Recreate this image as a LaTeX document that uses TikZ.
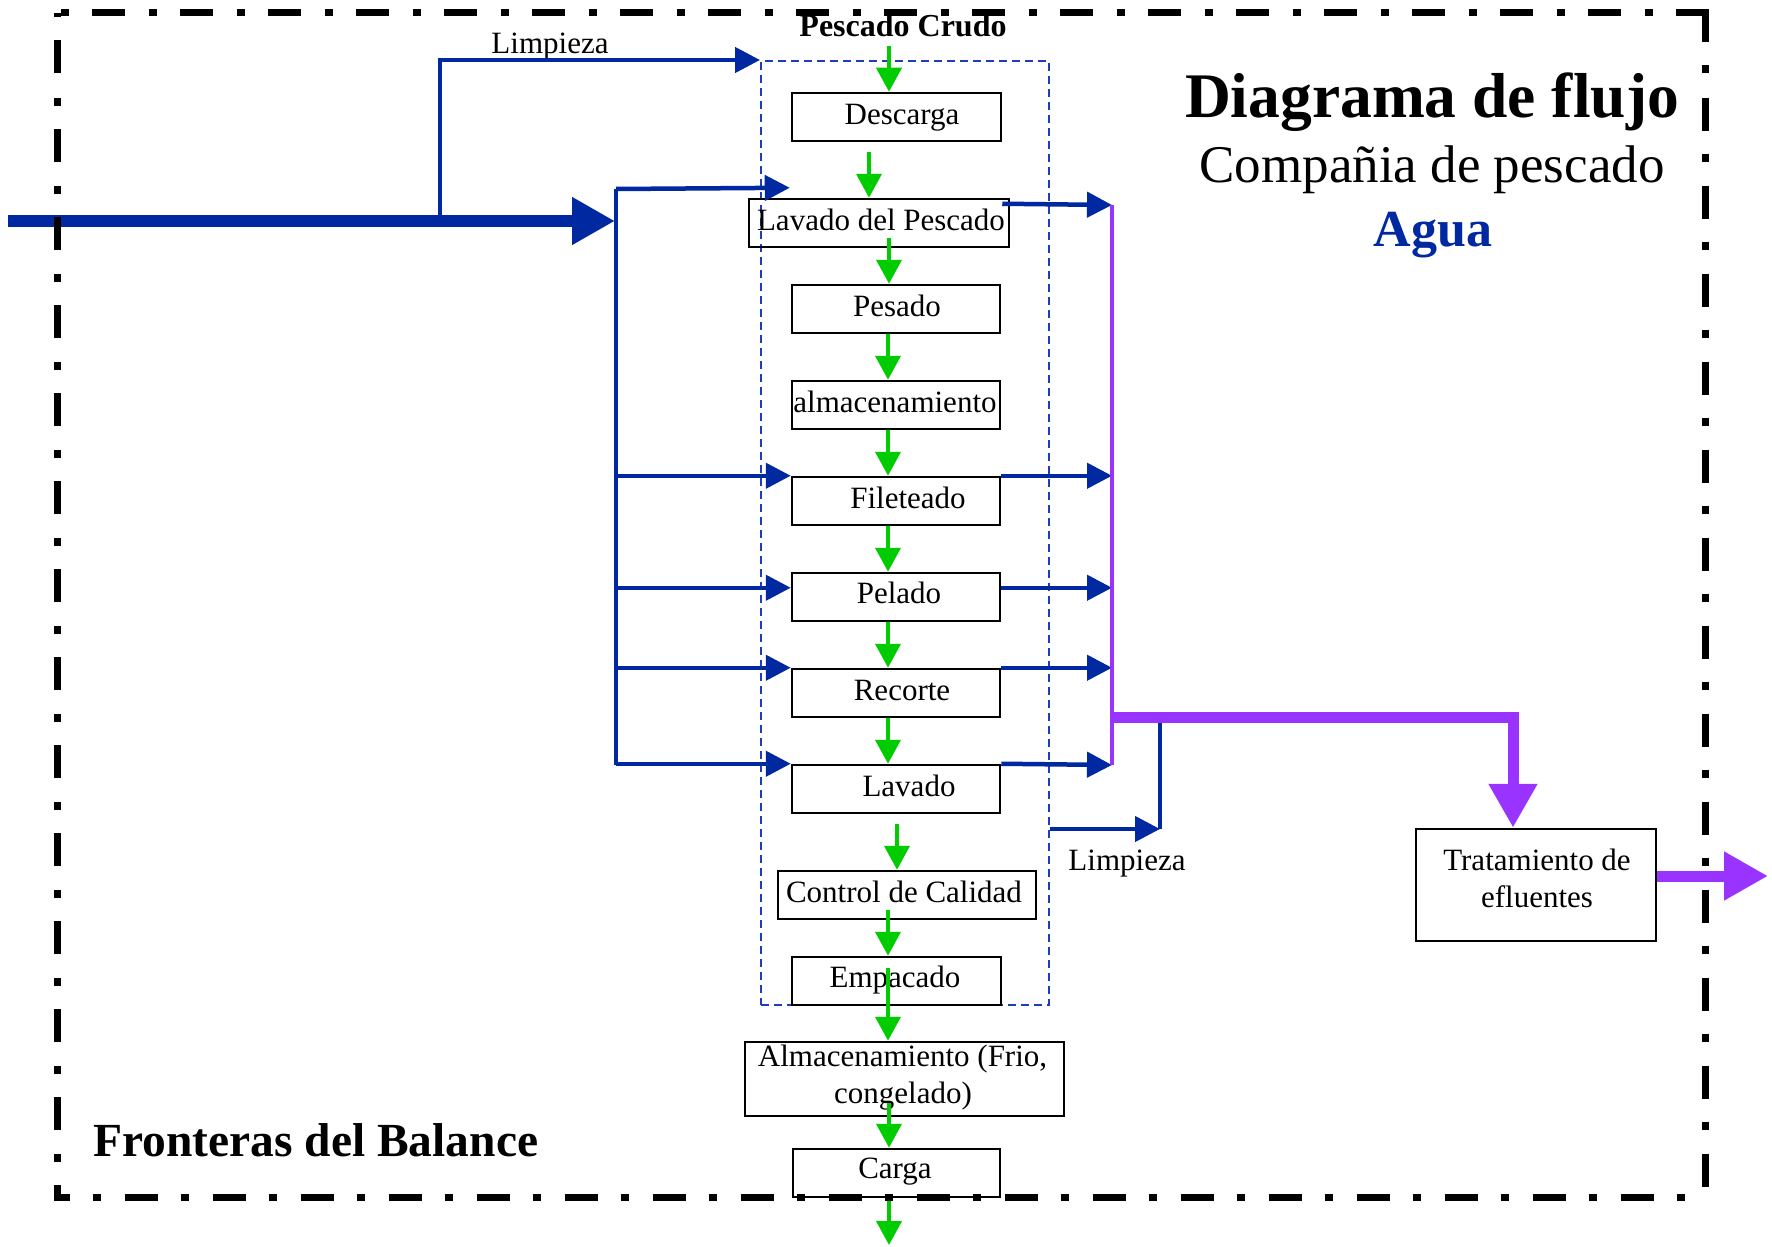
\documentclass[tikz,border=0pt]{standalone}
\usepackage{fontspec}
\setmainfont{Liberation Serif}
\usetikzlibrary{arrows.meta,calc}
\definecolor{cblue}{RGB}{0,40,160}
\definecolor{cdash}{RGB}{30,60,190}
\definecolor{cgreen}{RGB}{0,204,0}
\definecolor{cpurp}{RGB}{153,51,255}
\begin{document}
\begin{tikzpicture}[x=1pt,y=-1pt,
  box/.style={draw, line width=2.5pt, inner sep=0pt, minimum height=48pt},
  txt/.style={inner sep=0pt, anchor=base, font=\fontsize{31}{37}\selectfont},
  bline/.style={draw=cblue, line width=4.5pt},
  barrow/.style={draw=cblue, line width=4.5pt, line join=miter, -{Triangle[length=25pt,width=25pt]}},
  bthick/.style={draw=cblue, line width=12pt, -{Triangle[length=43pt,width=45pt]}},
  garrow/.style={draw=cgreen, line width=4pt, -{Triangle[length=24pt,width=25pt]}},
  pline/.style={draw=cpurp, line width=4pt},
  pthick/.style={draw=cpurp, line width=11pt, line join=miter, -{Triangle[length=44pt,width=46pt]}},
  border/.style={draw=black, line width=7pt, dash pattern=on 33pt off 23pt on 8pt off 24pt}
]
\useasboundingbox (0,0) rectangle (1772,1247);

% dashed process zone
\node[draw=cdash, line width=2pt, dash pattern=on 8pt off 5pt, inner sep=0pt,
      minimum width=288pt, minimum height=944pt] (zone) at (905,533) {};

% boxes
\node[box, minimum width=209pt] (desc) at (896.5,117) {};
\node[box, minimum width=260pt] (lavp) at (879,223) {};
\node[box, minimum width=208pt] (pes) at (896,309) {};
\node[box, minimum width=208pt] (alm) at (896,405) {};
\node[box, minimum width=208pt] (fil) at (896,501) {};
\node[box, minimum width=208pt] (pel) at (896,597) {};
\node[box, minimum width=208pt] (rec) at (896,693) {};
\node[box, minimum width=208pt] (lav) at (896,789) {};
\node[box, minimum width=258pt] (ctrl) at (907,895) {};
\node[box, minimum width=209pt] (emp) at (896.5,981) {};
\node[box, minimum width=319pt, minimum height=74pt] (almf) at (904.5,1079) {};
\node[box, minimum width=207pt] (carga) at (896.5,1173) {};
\node[box, minimum width=240pt, minimum height=112pt] (trat) at (1536,885) {};

% box texts
\node[txt] (tdesc) at (902,124) {Descarga};
\node[txt] (tlavp) at (881,230) {Lavado del Pescado};
\node[txt] (tpes) at (897,316) {Pesado};
\node[txt] (talm) at (895,412) {almacenamiento};
\node[txt] (tfil) at (908,508) {Fileteado};
\node[txt] (tpel) at (899,603) {Pelado};
\node[txt] (trec) at (902,700) {Recorte};
\node[txt] (tlav) at (909,796) {Lavado};
\node[txt] (tctrl) at (904,902) {Control de Calidad};
\node[txt] (temp) at (895,987) {Empacado};
\node[txt] (talma) at (902.5,1066) {Almacenamiento (Frio,};
\node[txt] (talmb) at (903,1103) {congelado)};
\node[txt] (tcarga) at (895,1178) {Carga};
\node[txt] (ttrata) at (1537,870) {Tratamiento de};
\node[txt] (ttratb) at (1537,907) {efluentes};

% other texts
\node[txt, font=\fontsize{32}{37}\selectfont\bfseries] (tpc) at (903,37) {Pescado Crudo};
\node[txt] (tlim1) at (550,53) {Limpieza};
\node[txt] (tlim2) at (1127,870) {Limpieza};
\node[txt, font=\fontsize{63.5}{70}\selectfont\bfseries] (title) at (1432,117) {Diagrama de flujo};
\node[txt, font=\fontsize{53}{60}\selectfont] (sub) at (1432,182) {Compañia de pescado};
\node[txt, font=\fontsize{52}{60}\selectfont\bfseries, text=cblue] (agua) at (1433,246) {Agua};
\node[txt, anchor=base west, font=\fontsize{47.5}{52}\selectfont\bfseries] (front) at (93,1156) {Fronteras del Balance};

% coordinates
\coordinate (in) at (8,221);
\coordinate (hub) at (615,221);
\coordinate (lbr) at (440,221);
\coordinate (bus) at (616,189);
\coordinate (busend) at (616,765);
\coordinate (col) at (1112,205);
\coordinate (colb) at (1112,765);
\coordinate (pj) at (1112,717);
\coordinate (lb1) at (1160,829);
\coordinate (lb2) at (1160,717);
\coordinate (out) at (889,1245);
\coordinate (effout) at (1768,876);
\coordinate (pelin) at ([yshift=-16pt]pel.north west);
\coordinate (pelout) at ([yshift=-16pt]pel.north east);
\coordinate (ctl) at (57,13);
\coordinate (ctr) at (1705,13);
\coordinate (cbl) at (57,1197);
\coordinate (cbr) at (1705,1197);

% blue water input
\draw[bthick] (in) -- (hub);
\draw[barrow] (lbr) |- (zone.north west);
\draw[bline] (bus) -- (busend);
\draw[barrow] (bus) -- ([xshift=42pt,yshift=10pt]lavp.north west);
\draw[barrow] (bus |- fil.north west) -- (fil.north west);
\draw[barrow] (bus |- pelin) -- (pelin);
\draw[barrow] (bus |- rec.north west) -- (rec.north west);
\draw[barrow] (bus |- lav.north west) -- (lav.north west);

% blue water outputs
\draw[barrow] ([xshift=-8pt,yshift=-6pt]lavp.north east) -- (col);
\draw[barrow] (fil.north east) -- (col |- fil.north east);
\draw[barrow] (pelout) -- (col |- pelout);
\draw[barrow] (rec.north east) -- (col |- rec.north east);
\draw[barrow] (lav.north east) -- (colb);
\draw[barrow] (zone.east |- lb1) -- (lb1);
\draw[bline] (lb1) -- (lb2);

% purple effluent
\draw[pline] (col) -- (colb);
\draw[pthick] (pj) -| ([xshift=-23pt]trat.north);
\draw[pthick] ([yshift=9pt]trat.east) -- (effout);

% green product flow
\draw[garrow] ([xshift=-14pt,yshift=-9pt]tpc.base) -- ([xshift=-7.5pt]desc.north);
\draw[garrow] ([xshift=-27.5pt,yshift=-10pt]desc.south) -- ([xshift=-10pt]lavp.north);
\draw[garrow] ([xshift=10pt,yshift=10pt]lavp.south) -- ([xshift=-7pt]pes.north);
\draw[garrow] ([xshift=-8pt]pes.south) -- ([xshift=-8pt]alm.north);
\draw[garrow] ([xshift=-8pt]alm.south) -- ([xshift=-8pt]fil.north);
\draw[garrow] ([xshift=-8pt]fil.south) -- ([xshift=-8pt]pel.north);
\draw[garrow] ([xshift=-8pt]pel.south) -- ([xshift=-8pt]rec.north);
\draw[garrow] ([xshift=-8pt]rec.south) -- ([xshift=-8pt]lav.north);
\draw[garrow] ([xshift=1pt,yshift=-10pt]lav.south) -- ([xshift=-10pt]ctrl.north);
\draw[garrow] ([xshift=-19pt,yshift=10pt]ctrl.south) -- ([xshift=-8.5pt]emp.north);
\draw[garrow] ([xshift=-8.5pt,yshift=38pt]emp.south) -- ([xshift=-16.5pt]almf.north);
\draw[garrow] ([xshift=-15.5pt,yshift=14pt]almf.south) -- ([xshift=-7.5pt]carga.north);
\draw[garrow] ([xshift=-7.5pt]carga.south) -- (out);

% balance boundary (each side drawn from its corner)
\draw[border] ([yshift=3.5pt]ctr) -- (cbr);
\draw[border] ([xshift=3.5pt]ctr) -- (ctl);
\draw[border, dash phase=17pt] ([yshift=-3.5pt]cbl) -- (ctl);
\draw[border, dash phase=17pt] ([xshift=-3.5pt]cbl) -- (cbr);
\end{tikzpicture}
\end{document}
